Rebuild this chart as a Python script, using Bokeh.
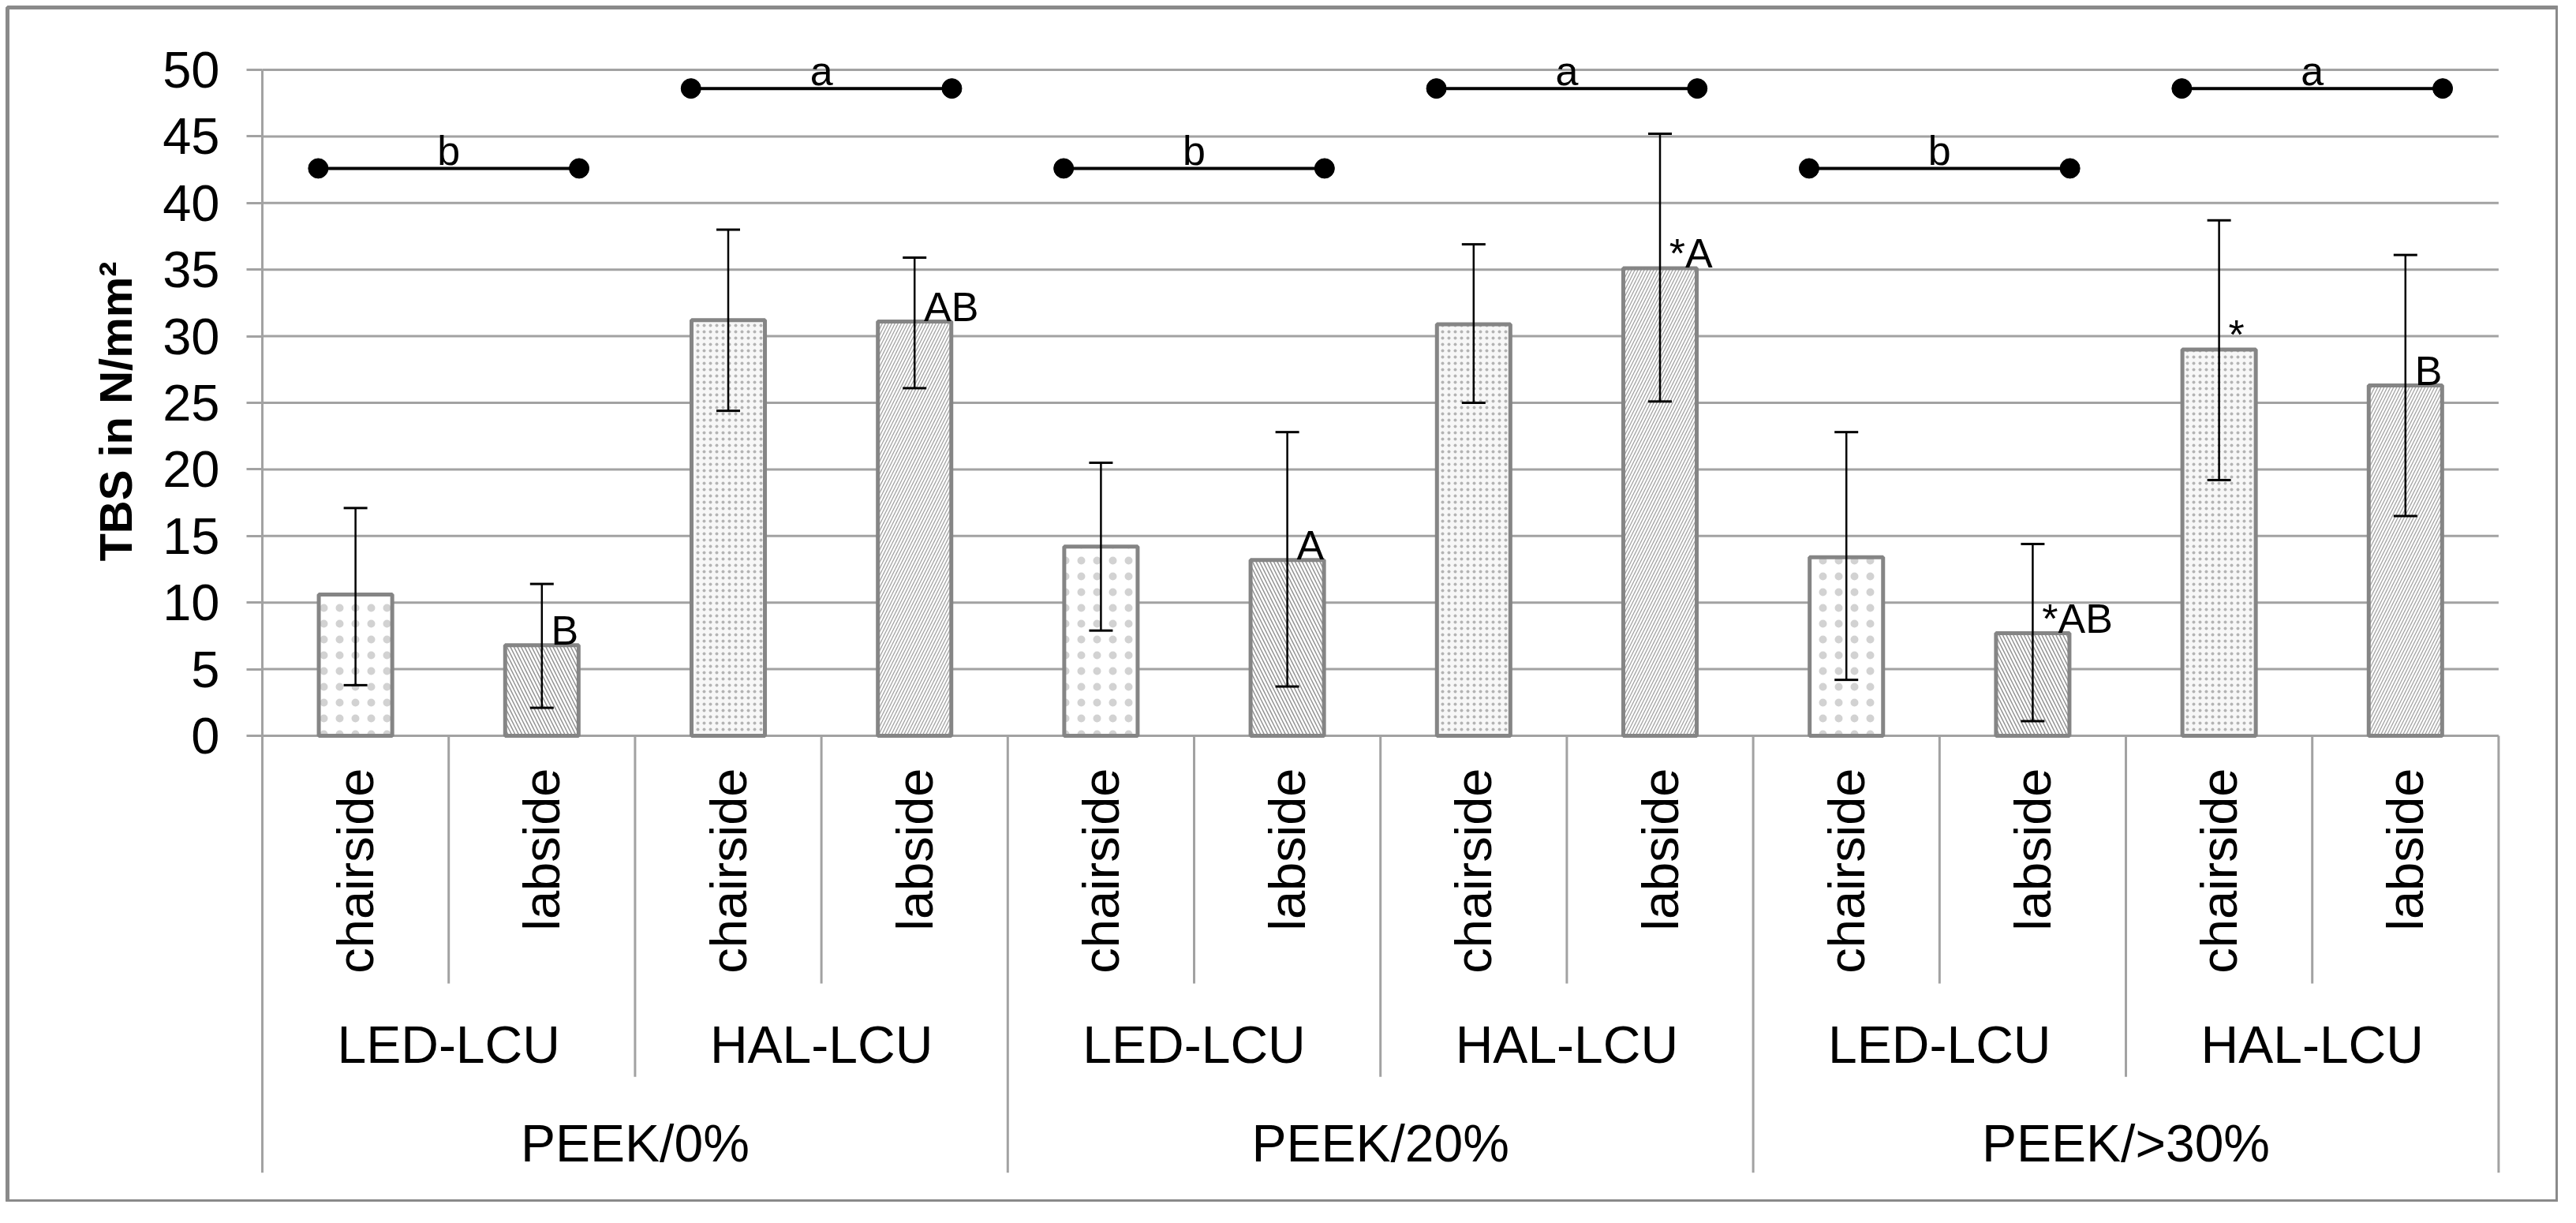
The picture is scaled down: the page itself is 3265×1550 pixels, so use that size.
import math
from bokeh.plotting import figure
from bokeh.models import Range1d, LinearAxis, FixedTicker, ColumnDataSource, Whisker, TeeHead
from bokeh.core.properties import value
from bokeh.embed import file_html
from bokeh.resources import INLINE

# ---------------- data ----------------
peek_groups = ["PEEK/0%", "PEEK/20%", "PEEK/>30%"]
lcu_groups = ["LED-LCU", "HAL-LCU"]
sides = ["chairside", "labside"]

means = [10.6, 6.8, 31.2, 31.1, 14.2, 13.2, 30.9, 35.1, 13.4, 7.7, 29.0, 26.3]
err_upper = [17.1, 11.4, 38.0, 35.9, 20.5, 22.8, 36.9, 45.2, 22.8, 14.4, 38.7, 36.1]
err_lower = [3.8, 2.1, 24.4, 26.1, 7.9, 3.7, 25.0, 25.1, 4.2, 1.1, 19.2, 16.5]
bar_marks = ["", "B", "", "AB", "", "A", "", "*A", "", "*AB", "*", "B"]

bracket_letters = ["b", "a", "b", "a", "b", "a"]
bracket_levels = [42.6, 48.6, 42.6, 48.6, 42.6, 48.6]

y_ticks = [0, 5, 10, 15, 20, 25, 30, 35, 40, 45, 50]
y_title = "TBS in N/mm²"

# ---------------- derived ----------------
FONT = "Liberation Sans"
GRID = "#a2a2a2"
n = len(means)
xc = [i + 0.5 for i in range(n)]
bar_side = [sides[i % 2] for i in range(n)]
bar_lcu = [lcu_groups[(i // 2) % 2] for i in range(n)]
lcu_centers = [2 * k + 1 for k in range(n // 2)]
lcu_names = [lcu_groups[k % 2] for k in range(n // 2)]
peek_centers = [4 * k + 2 for k in range(len(peek_groups))]

p = figure(width=3242, height=1523,
           x_range=Range1d(-1.3675, 12.32), y_range=Range1d(-35.01, 54.68),
           output_backend="svg", toolbar_location=None,
           x_axis_location=None, y_axis_location=None,
           min_border=0, min_border_left=9, min_border_top=9, min_border_right=0, min_border_bottom=0)
p.grid.visible = False
p.background_fill_color = "white"
p.border_fill_color = "white"
p.outline_line_color = "#8a8a8a"
p.outline_line_width = 5

# y axis inside the frame at x = 0
yaxis = LinearAxis(fixed_location=0, bounds=(-1.3, 50), ticker=FixedTicker(ticks=y_ticks),
                   axis_label=y_title)
yaxis.axis_line_color = GRID
yaxis.axis_line_width = 3
yaxis.major_tick_line_color = GRID
yaxis.major_tick_line_width = 3
yaxis.major_tick_out = 20
yaxis.major_tick_in = 0
yaxis.minor_tick_line_color = None
yaxis.major_label_text_font = FONT
yaxis.major_label_text_font_size = "65px"
yaxis.major_label_text_color = "black"
yaxis.major_label_standoff = 34
yaxis.axis_label_text_font = FONT
yaxis.axis_label_text_font_style = "bold"
yaxis.axis_label_text_font_size = "58px"
yaxis.axis_label_text_color = "black"
yaxis.axis_label_standoff = 24
p.add_layout(yaxis, "left")

# gridlines across the category span
p.segment(x0=[0] * len(y_ticks), x1=[n] * len(y_ticks), y0=y_ticks, y1=y_ticks,
          line_color=GRID, line_width=3)

# separators below the category axis
sep_x = list(range(n + 1))
sep_bottom = []
for k in sep_x:
    if k % 4 == 0:
        sep_bottom.append(-32.8)
    elif k % 2 == 0:
        sep_bottom.append(-25.6)
    else:
        sep_bottom.append(-18.6)
p.segment(x0=sep_x, x1=sep_x, y0=[0] * len(sep_x), y1=sep_bottom, line_color=GRID, line_width=3)

# bars
styles = {
    ("LED-LCU", "chairside"): dict(fill_color="white", hatch_pattern="dot", hatch_color="#d2d2d2",
                                   hatch_scale=20, hatch_weight=0.1),
    ("LED-LCU", "labside"): dict(fill_color="white", hatch_pattern="left_diagonal_line",
                                 hatch_color="#949494", hatch_scale=9, hatch_weight=1.5),
    ("HAL-LCU", "chairside"): dict(fill_color="#f7f7f7", hatch_pattern="dot", hatch_color="#b4b4b4",
                                   hatch_scale=8, hatch_weight=1),
    ("HAL-LCU", "labside"): dict(fill_color="white", hatch_pattern="right_diagonal_line",
                                 hatch_color="#a2a2a2", hatch_scale=8, hatch_weight=1.3),
}
for (lcu, side), st in styles.items():
    idx = [i for i in range(n) if bar_lcu[i] == lcu and bar_side[i] == side]
    src = ColumnDataSource(dict(x=[xc[i] for i in idx], top=[means[i] for i in idx]))
    p.vbar(x="x", top="top", bottom=0, width=0.394, source=src,
           line_color="#858585", line_width=5, **st)

# error bars (drawn over the bars)
esrc = ColumnDataSource(dict(x=xc, upper=err_upper, lower=err_lower))
p.add_layout(Whisker(source=esrc, base="x", upper="upper", lower="lower", level="overlay",
                     line_color="black", line_width=2.5,
                     upper_head=TeeHead(size=30, line_color="black", line_width=3),
                     lower_head=TeeHead(size=30, line_color="black", line_width=3)))

# significance marks next to bars
p.text(x=[x + 0.05 for x in xc], y=[m + 1.1 for m in means], text=bar_marks,
       text_font=value(FONT), text_font_size="52px", text_color="black",
       text_align="left", text_baseline="alphabetic")

# brackets
bx0 = [c - 0.7 for c in lcu_centers]
bx1 = [c + 0.7 for c in lcu_centers]
p.segment(x0=bx0, x1=bx1, y0=bracket_levels, y1=bracket_levels, line_color="black", line_width=4)
p.scatter(x=bx0 + bx1, y=bracket_levels + bracket_levels, size=25, color="black")
p.text(x=lcu_centers, y=[b + 1.3 for b in bracket_levels], text=bracket_letters,
       text_font=value(FONT), text_font_size="52px", text_color="black",
       text_align="center", text_baseline="alphabetic")

# category labels
p.text(x=xc, y=[-2.43] * n, text=bar_side, angle=math.pi / 2,
       text_font=value(FONT), text_font_size="65px", text_color="black",
       text_align="right", text_baseline="middle")
p.text(x=lcu_centers, y=[-23.2] * len(lcu_centers), text=lcu_names,
       text_font=value(FONT), text_font_size="66px", text_color="black",
       text_align="center", text_baseline="middle")
p.text(x=peek_centers, y=[-30.6] * len(peek_centers), text=peek_groups,
       text_font=value(FONT), text_font_size="66px", text_color="black",
       text_align="center", text_baseline="middle")

open("out.html", "w").write(file_html(p, INLINE))
